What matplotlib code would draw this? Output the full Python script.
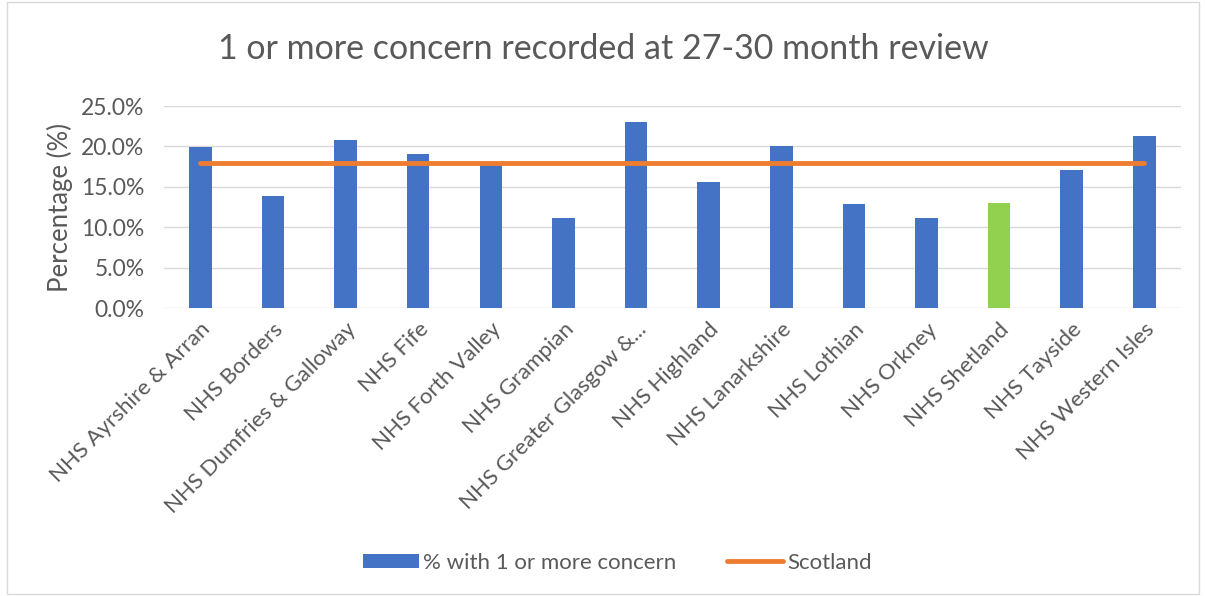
import numpy as np
import matplotlib.pyplot as plt
from matplotlib.patches import Rectangle

# data
boards = ['NHS Ayrshire & Arran', 'NHS Borders', 'NHS Dumfries & Galloway', 'NHS Fife',
          'NHS Forth Valley', 'NHS Grampian', 'NHS Greater Glasgow &...', 'NHS Highland',
          'NHS Lanarkshire', 'NHS Lothian', 'NHS Orkney', 'NHS Shetland', 'NHS Tayside',
          'NHS Western Isles']
concern_pct = [19.9, 13.9, 20.8, 19.1, 17.9, 11.2, 23.0, 15.6, 20.0, 12.9, 11.1, 13.0, 17.1, 21.3]
scotland_pct = [17.9] * len(boards)
highlight = 'NHS Shetland'

plt.rcParams['font.family'] = ['Lato', 'DejaVu Sans']
text_col = '#595959'

fig = plt.figure(figsize=(12.06, 5.96), dpi=100)
fig.patches.append(Rectangle((0.006, 0.004), 0.988, 0.992, transform=fig.transFigure,
                             fill=False, edgecolor='#d9d9d9', linewidth=1))
ax = fig.add_axes([0.136, 0.483, 0.843, 0.339])

x = np.arange(len(boards))
colors = ['#92d050' if b == highlight else '#4472c4' for b in boards]
bars = ax.bar(x, concern_pct, width=0.31, color=colors, label='% with 1 or more concern', zorder=2)
line, = ax.plot(x, scotland_pct, color='#ed7d31', linewidth=3.5, solid_capstyle='round',
                label='Scotland', zorder=3)

ax.set_xlim(-0.5, len(boards) - 0.5)
ax.set_ylim(0, 25)
ax.set_yticks(np.arange(0, 25.1, 5))
ax.set_yticklabels([f'{v:.1f}%' for v in np.arange(0, 25.1, 5)], fontsize=16.5, color=text_col)
ax.set_xticks(x)
ax.set_xticklabels(boards, rotation=45, ha='right', rotation_mode='anchor',
                   fontsize=16, color=text_col)
ax.tick_params(axis='y', length=0, pad=14)
ax.tick_params(axis='x', length=0, pad=8)
ax.grid(axis='y', color='#d9d9d9', linewidth=1, zorder=0)
for s in ax.spines.values():
    s.set_visible(False)
ax.set_ylabel('Percentage (%)', fontsize=18.5, color=text_col, labelpad=6)

fig.text(0.5, 0.918, '1 or more concern recorded at 27-30 month review', ha='center',
         va='center', fontsize=24.5, color=text_col)
fig.legend([bars, line], ['% with 1 or more concern', 'Scotland'],
           loc='center', bbox_to_anchor=(0.512, 0.056), ncol=2, frameon=False,
           fontsize=16, labelcolor=text_col, handlelength=2.5, handleheight=0.6,
           columnspacing=2.3, handletextpad=0.2)

fig.savefig('out.png', dpi=100)
